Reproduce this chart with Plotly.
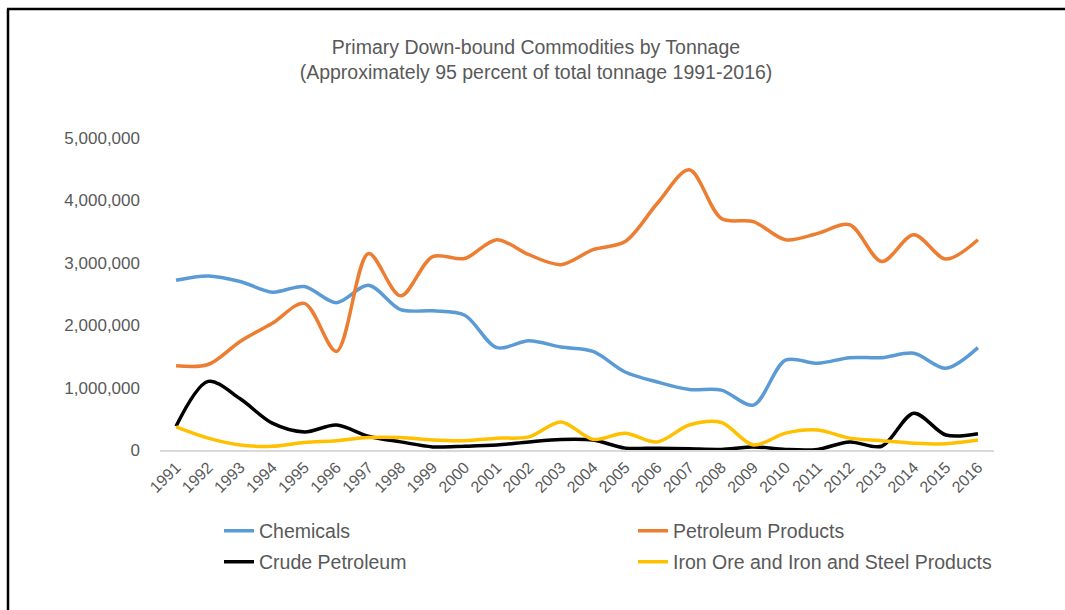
import plotly.graph_objects as go

# Tonnage by year, 1991-2016
years = [str(y) for y in range(1991, 2017)]

chemicals = [2720000, 2790000, 2700000, 2530000, 2620000, 2360000, 2640000, 2250000,
             2230000, 2160000, 1640000, 1750000, 1650000, 1580000, 1250000, 1090000,
             970000, 960000, 720000, 1440000, 1390000, 1480000, 1480000, 1550000,
             1310000, 1640000]

petroleum_products = [1350000, 1370000, 1740000, 2030000, 2350000, 1580000, 3150000, 2470000,
                      3100000, 3070000, 3370000, 3130000, 2970000, 3210000, 3340000, 3950000,
                      4490000, 3710000, 3660000, 3370000, 3470000, 3610000, 3020000, 3450000,
                      3060000, 3370000]

crude_petroleum = [380000, 1100000, 820000, 430000, 290000, 400000, 220000, 130000,
                   50000, 60000, 80000, 130000, 170000, 160000, 30000, 30000,
                   20000, 10000, 50000, 10000, 10000, 130000, 60000, 590000,
                   240000, 260000]

iron_steel = [370000, 190000, 80000, 60000, 120000, 150000, 200000, 200000,
              160000, 150000, 190000, 210000, 450000, 170000, 270000, 130000,
              400000, 440000, 80000, 270000, 320000, 190000, 150000, 110000,
              100000, 160000]

# (name, values, colour, legend row)
series = [
    ("Chemicals", chemicals, "#5B9BD5", "legend"),
    ("Petroleum Products", petroleum_products, "#ED7D31", "legend"),
    ("Crude Petroleum", crude_petroleum, "#000000", "legend2"),
    ("Iron Ore and Iron and Steel Products", iron_steel, "#FFC000", "legend2"),
]

W, H = 1065, 610
L, R, T, B = 160, 71, 138, 160
PW, PH = W - L - R, H - T - B
GREY = "#595959"
FONT = "Liberation Sans, Arial, sans-serif"
S_TITLE, S_TICK, S_XTICK, S_LEG = 19.5, 17, 16, 19.5


def px_x(p):
    return (p - L) / PW


def px_y(p):
    return (H - B - p) / PH


fig = go.Figure()
for name, vals, color, leg in series:
    fig.add_trace(go.Scatter(
        x=years, y=vals, name=name, mode="lines", legend=leg,
        line=dict(color=color, width=3.5, shape="spline", smoothing=0.9),
    ))


def legend_row(center_y):
    return dict(
        orientation="h", x=px_x(219), y=px_y(center_y), xanchor="left", yanchor="middle",
        entrywidth=369, entrywidthmode="pixels", itemwidth=30,
        font=dict(family=FONT, size=S_LEG, color=GREY),
        bgcolor="rgba(0,0,0,0)", borderwidth=0,
    )


fig.update_layout(
    width=W, height=H,
    margin=dict(l=L, r=R, t=T, b=B, autoexpand=False),
    paper_bgcolor="white", plot_bgcolor="white",
    font=dict(family=FONT, color=GREY, size=S_LEG),
    title=dict(
        text="Primary Down-bound Commodities by Tonnage<br>(Approximately 95 percent of total tonnage 1991-2016)",
        x=536 / W, xanchor="center", y=1 - 54 / H, yanchor="middle",
        font=dict(family=FONT, size=S_TITLE, color=GREY),
    ),
    xaxis=dict(
        type="category", range=[-0.5, 25.5], tickangle=-45,
        showgrid=False, zeroline=False, showline=True,
        linecolor="#D9D9D9", linewidth=1.5, ticks="",
        tickfont=dict(family=FONT, size=S_XTICK, color=GREY),
    ),
    yaxis=dict(
        range=[0, 5000000], dtick=1000000, tickformat=",d",
        showgrid=False, zeroline=False, showline=False, ticks="",
        ticklabelstandoff=19,
        tickfont=dict(family=FONT, size=S_TICK, color=GREY),
    ),
    legend=legend_row(531),
    legend2=legend_row(562),
    showlegend=True,
)

# Black frame along the left and top edges
fig.add_shape(type="line", xref="paper", yref="paper",
              x0=px_x(8), y0=px_y(9), x1=px_x(8), y1=px_y(H + 2),
              line=dict(color="black", width=2.5))
fig.add_shape(type="line", xref="paper", yref="paper",
              x0=px_x(7), y0=px_y(9), x1=px_x(W + 2), y1=px_y(9),
              line=dict(color="black", width=2.5))

fig.write_html("out.html")
